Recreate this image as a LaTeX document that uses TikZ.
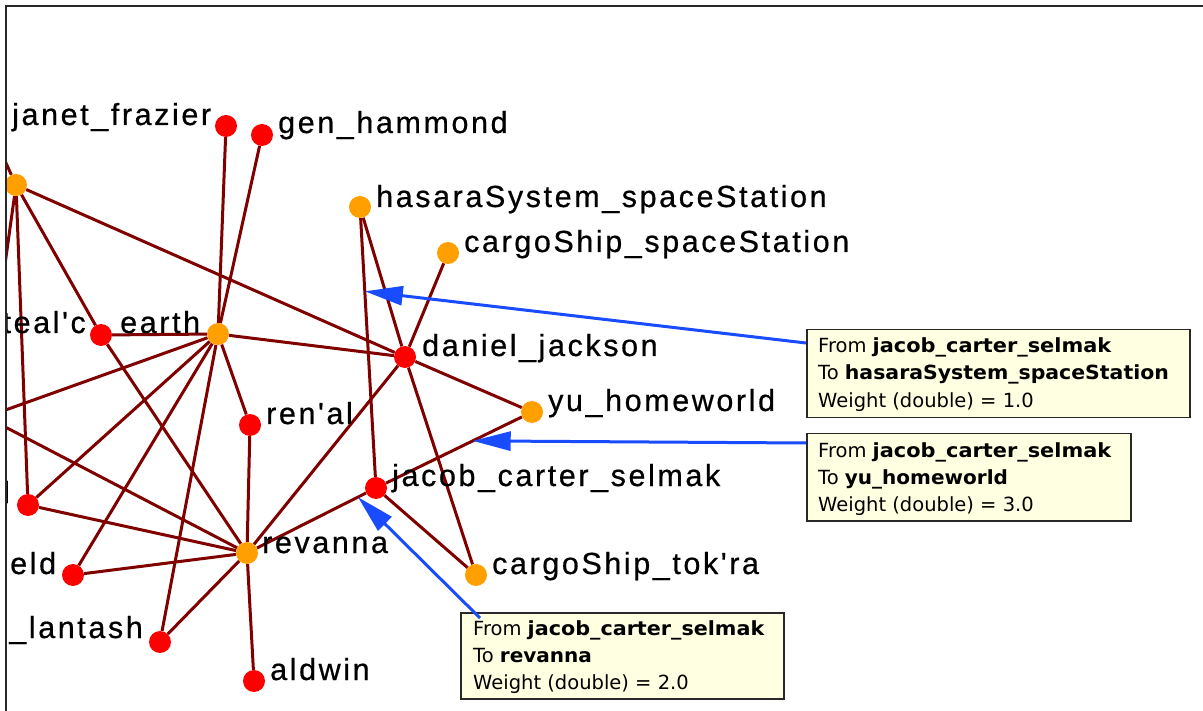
\documentclass[tikz,border=0pt]{standalone}
\usepackage{fontspec}
\usepackage{graphicx}
\usetikzlibrary{arrows.meta,calc}
\newfontfamily\lblfont[LetterSpace=8.5,FakeBold=0.6,Ligatures=TeXOff]{Liberation Sans}
\newfontfamily\tipfont[Ligatures=TeXOff]{DejaVu Sans}
\newcommand{\tipname}[2]{\resizebox{#1pt}{\height}{\textbf{#2}}}
\definecolor{edgec}{RGB}{128,0,0}
\definecolor{vred}{RGB}{255,0,0}
\definecolor{vorange}{RGB}{255,160,0}
\definecolor{tipblue}{RGB}{25,75,255}
\definecolor{tipbg}{RGB}{255,255,225}
\definecolor{framec}{RGB}{40,40,40}
\begin{document}
\begin{tikzpicture}[x=1pt,y=-1pt,
  vtx/.style={circle,inner sep=0pt,minimum size=22pt},
  rv/.style={vtx,fill=vred},
  ov/.style={vtx,fill=vorange},
  edge/.style={draw=edgec,line width=3pt},
  lbl/.style={anchor=base west,inner sep=0pt,font=\lblfont\fontsize{30.5}{36}\selectfont},
  lble/.style={lbl,anchor=base east},
  tipbox/.style={draw=framec,line width=1.5pt,fill=tipbg,anchor=north west,inner sep=0pt},
  tiptxt/.style={anchor=base west,inner sep=0pt,font=\tipfont\fontsize{19.5}{24}\selectfont},
  pointer/.style={draw=tipblue,line width=3pt,-{Triangle[length=38pt,width=19pt]}}
]
\useasboundingbox (0,0) rectangle (1203,711);
\fill[white] (0,0) rectangle (1203,711);

\begin{scope}
\clip (7,7) rectangle (1203,711);
% vertices
\node[ov] (oleft) at (16,185) {};
\node[rv] (rjanet) at (226,126) {};
\node[rv] (rgen) at (262,135) {};
\node[rv] (rteal) at (101,335) {};
\node[ov] (oearth) at (218,334) {};
\node[rv] (rrenal) at (250,425) {};
\node[rv] (rleft) at (28,505) {};
\node[rv] (reld) at (73,575) {};
\node[rv] (rlant) at (160,642) {};
\node[ov] (orev) at (247,553) {};
\node[rv] (rald) at (254,681) {};
\node[ov] (ohasara) at (360,207) {};
\node[ov] (ocargoss) at (448,253) {};
\node[rv] (rdaniel) at (405,357) {};
\node[ov] (oyu) at (532,412) {};
\node[rv] (rjacob) at (376,488) {};
\node[ov] (otokra) at (476,575) {};
\coordinate (offUL) at (-20,106);
\coordinate (offDL) at (-30,517);
\coordinate (offL) at (-14,417);

% edges
\draw[edge] (oleft) -- (offUL);
\draw[edge] (oleft) -- (offDL);
\draw[edge] (oleft) -- (rteal);
\draw[edge] (oleft) -- (rleft);
\draw[edge] (oleft) -- (rdaniel);
\draw[edge] (oearth) -- (rteal);
\draw[edge] (oearth) -- (rjanet);
\draw[edge] (oearth) -- (rgen);
\draw[edge] (oearth) -- (rdaniel);
\draw[edge] (oearth) -- (rrenal);
\draw[edge] (oearth) -- (offL);
\draw[edge] (oearth) -- (rleft);
\draw[edge] (oearth) -- (reld);
\draw[edge] (oearth) -- (rlant);
\draw[edge] (orev) -- (offL);
\draw[edge] (orev) -- (rleft);
\draw[edge] (orev) -- (rteal);
\draw[edge] (orev) -- (rrenal);
\draw[edge] (orev) -- (reld);
\draw[edge] (orev) -- (rlant);
\draw[edge] (orev) -- (rald);
\draw[edge] (orev) -- (rjacob);
\draw[edge] (orev) -- (rdaniel);
\draw[edge] (rdaniel) -- (ohasara);
\draw[edge] (rdaniel) -- (ocargoss);
\draw[edge] (rdaniel) -- (oyu);
\draw[edge] (rdaniel) -- (otokra);
\draw[edge] (rjacob) -- (ohasara);
\draw[edge] (rjacob) -- (oyu);
\draw[edge] (rjacob) -- (otokra);

% labels
\node[lbl] (ljanet) at (12,125) {janet\_frazier};
\node[lbl] (lgen) at (278,133) {gen\_hammond};
\node[lbl] (lhasara) at (376,207) {hasaraSystem\_spaceStation};
\node[lbl] (lcargoss) at (464,252) {cargoShip\_spaceStation};
\node[lble] (lteal) at (86,333) {teal'c};
\node[lbl] (learth) at (120,333) {earth};
\node[lbl] (ldaniel) at (422,356) {daniel\_jackson};
\node[lbl] (lyu) at (548,411) {yu\_homeworld};
\node[lbl] (lrenal) at (266,424) {ren'al};
\node[lbl] (ljacob) at (392,486) {jacob\_carter\_selmak};
\node[lble] (lleft) at (10,503) {l};
\node[lbl] (lrev) at (262,553) {revanna};
\node[lbl] (leld) at (10,574) {eld};
\node[lbl] (ltokra) at (492,574) {cargoShip\_tok'ra};
\node[lble] (llant) at (143,638) {\_lantash};
\node[lbl] (lald) at (270,680) {aldwin};
\end{scope}

% frame
\draw[framec,line width=2.5pt] (1203,6) -- (6,6) -- (6,711);

% tooltips
\node[tipbox,minimum width=383pt,minimum height=88pt] (t1) at (806,329) {};
\node[tiptxt] (t1a) at (818,353) {From \tipname{239}{jacob\_carter\_selmak}};
\node[tiptxt] (t1b) at (818,380) {To \tipname{324}{hasaraSystem\_spaceStation}};
\node[tiptxt] (t1c) at (818,407) {Weight (double) = 1.0};

\node[tipbox,minimum width=324pt,minimum height=87pt] (t2) at (806,433) {};
\node[tiptxt] (t2a) at (818,457) {From \tipname{239}{jacob\_carter\_selmak}};
\node[tiptxt] (t2b) at (818,484) {To \tipname{163}{yu\_homeworld}};
\node[tiptxt] (t2c) at (818,511) {Weight (double) = 3.0};

\node[tipbox,minimum width=323pt,minimum height=86pt] (t3) at (460,612) {};
\node[tiptxt] (t3a) at (473,635) {From \tipname{237}{jacob\_carter\_selmak}};
\node[tiptxt] (t3b) at (473,662) {To \tipname{92}{revanna}};
\node[tiptxt] (t3c) at (473,689) {Weight (double) = 2.0};

% pointers
\coordinate (p1) at ($(rjacob)!0.70!(ohasara)$);
\coordinate (p2) at ($(rjacob)!0.62!(oyu)$);
\coordinate (p3) at ($(rjacob)!0.14!(orev)$);
\coordinate (s1) at ($(t1.north west)+(0,14)$);
\coordinate (s2) at ($(t2.north west)+(0,10)$);
\coordinate (s3) at ($(t3.north west)+(20,6)$);
\draw[pointer] (s1) -- (p1);
\draw[pointer] (s2) -- (p2);
\draw[pointer] (s3) -- (p3);
\end{tikzpicture}
\end{document}
